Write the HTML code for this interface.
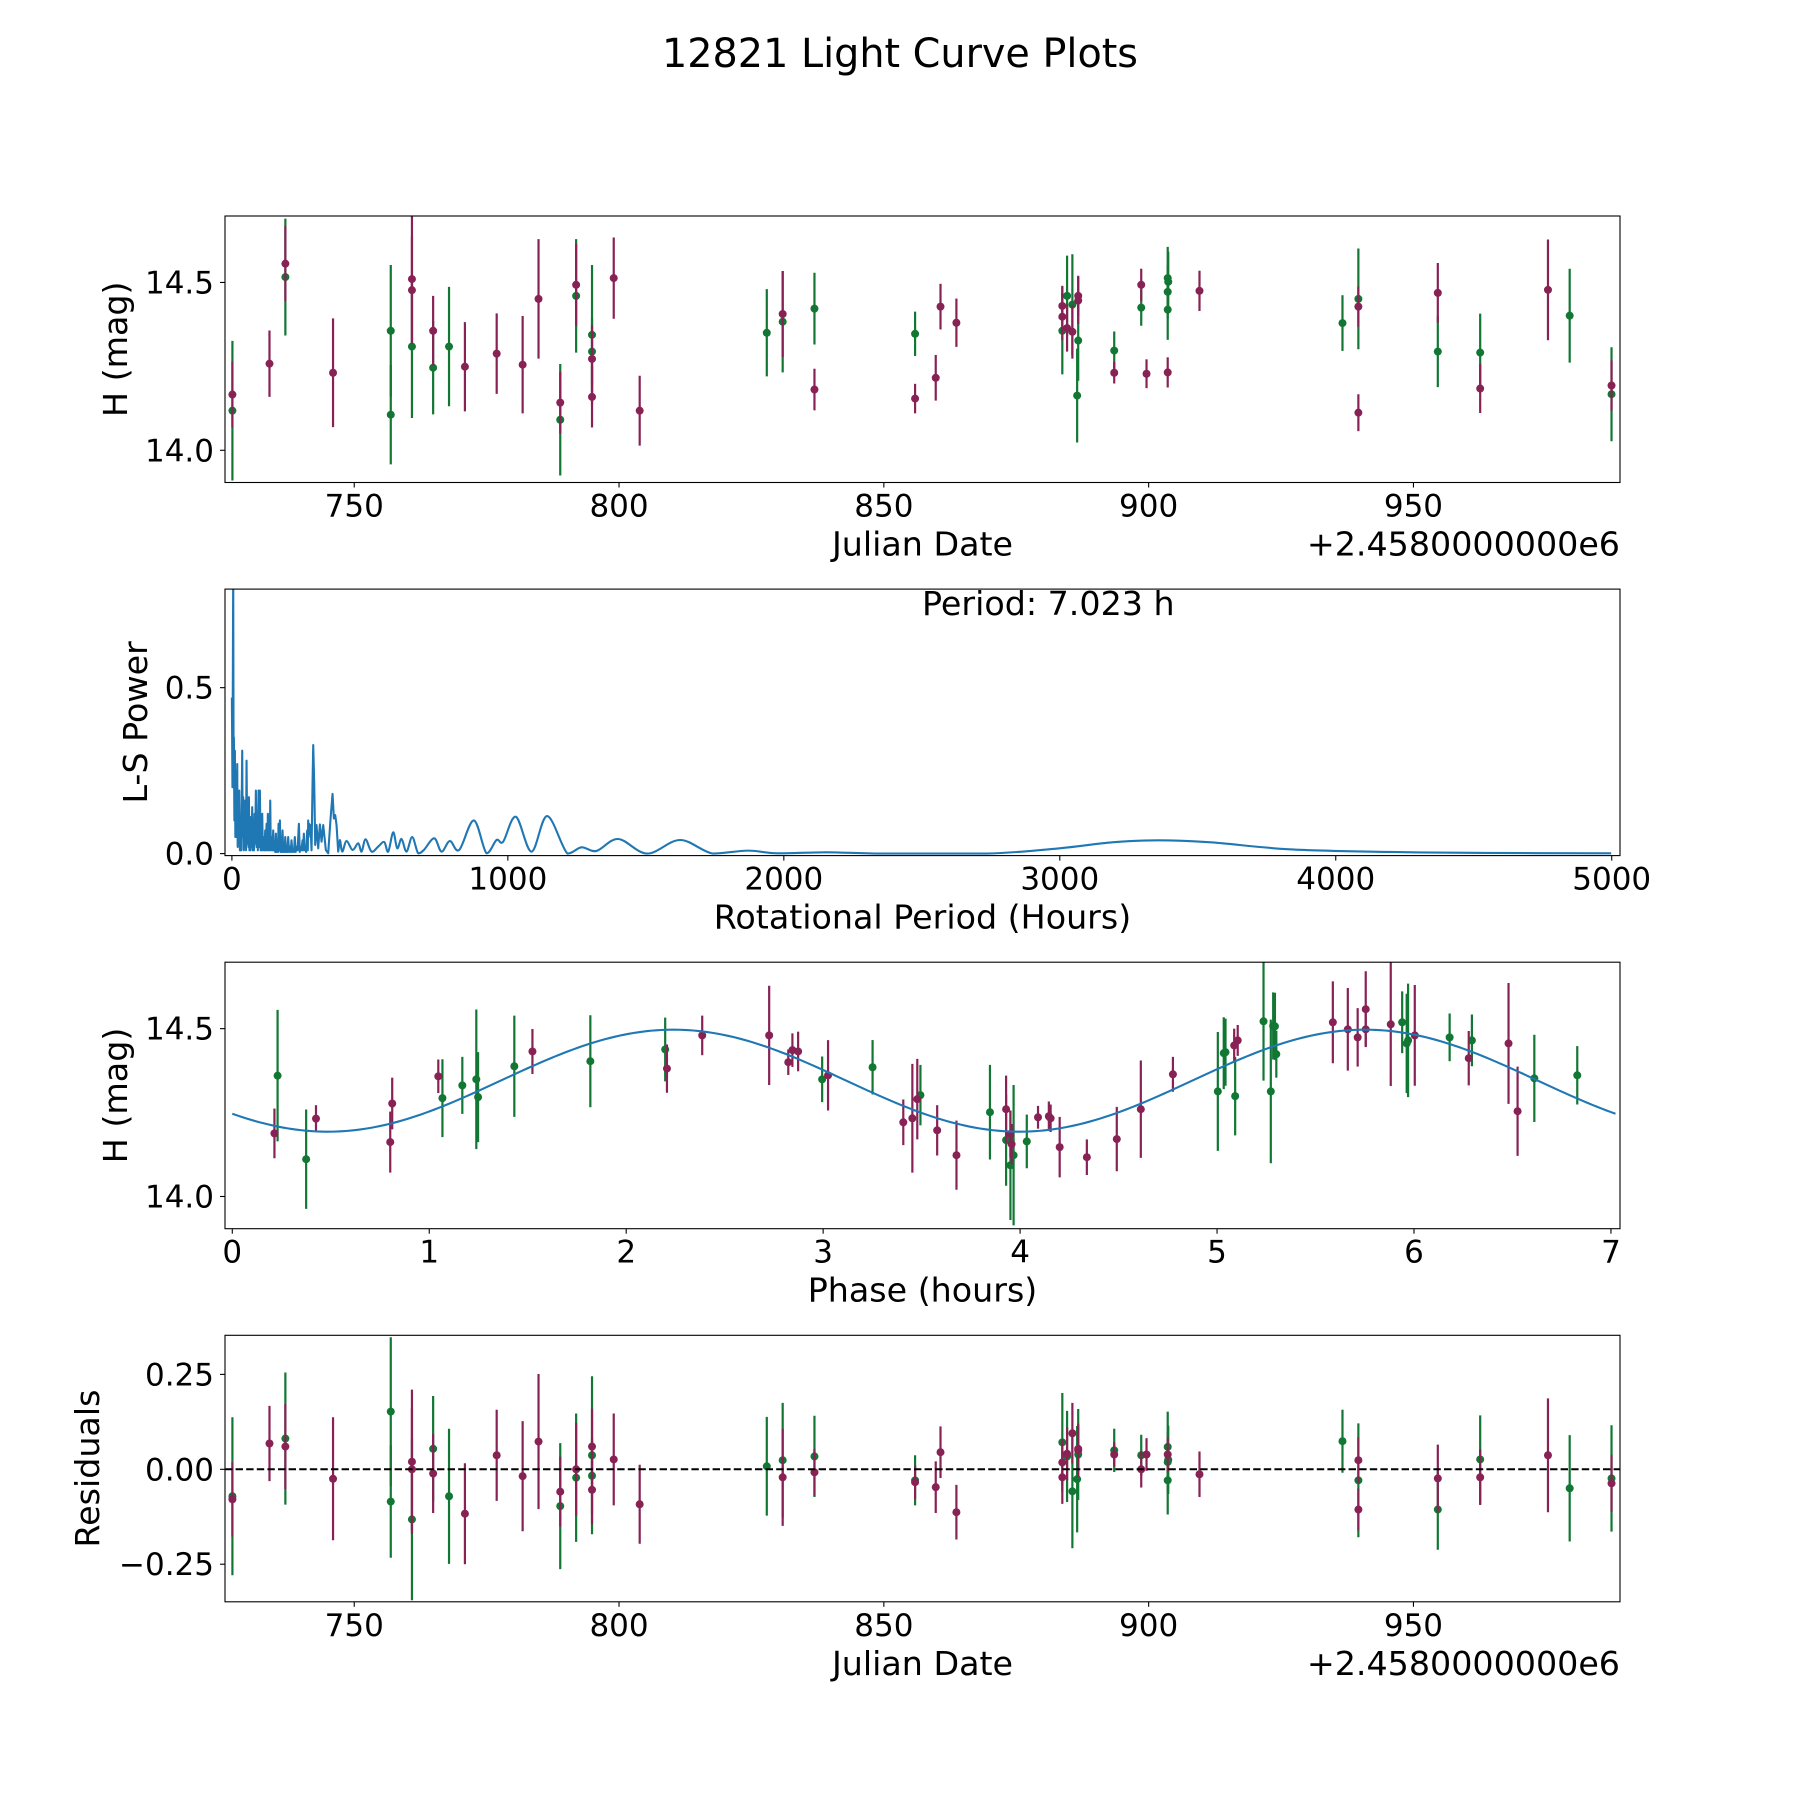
<!DOCTYPE html>
<html><head><meta charset="utf-8"><title>12821 Light Curve Plots</title>
<style>html,body{margin:0;padding:0;background:#fff}svg{display:block}text{font-family:"DejaVu Sans","Liberation Sans",sans-serif;fill:#000}</style>
</head><body>
<svg id="fig" xmlns="http://www.w3.org/2000/svg" width="1800" height="1800" viewBox="0 0 1800 1800">
<rect width="1800" height="1800" fill="#fff"/>
<text x="900" y="67" font-size="40" text-anchor="middle" textLength="476" lengthAdjust="spacingAndGlyphs">12821 Light Curve Plots</text>
</svg>
<script>
// ---- Panel 1 / 4 data: green filter ----
const gDate=[727.0,737.0,756.9,756.9,760.9,764.9,767.9,788.9,791.9,794.9,794.9,827.9,830.9,836.9,855.9,883.7,884.6,885.6,886.7,886.5,893.5,898.6,903.6,903.7,903.6,903.6,936.6,939.6,954.6,962.6,979.5,987.4];
const gMag=[14.118,14.516,14.356,14.106,14.309,14.246,14.309,14.091,14.460,14.344,14.294,14.350,14.383,14.422,14.347,14.356,14.460,14.434,14.327,14.163,14.297,14.425,14.513,14.502,14.472,14.419,14.379,14.451,14.294,14.291,14.401,14.167];
const gErr=[0.208,0.174,0.196,0.148,0.213,0.139,0.178,0.166,0.169,0.208,0.10,0.13,0.151,0.107,0.066,0.13,0.12,0.15,0.12,0.14,0.057,0.054,0.093,0.09,0.08,0.09,0.083,0.15,0.106,0.116,0.14,0.14];
const gRes=[-0.071,0.081,0.152,-0.085,-0.132,0.054,-0.071,-0.097,-0.022,0.037,-0.017,0.008,0.024,0.034,-0.029,0.071,0.034,-0.058,0.039,-0.026,0.05,0.037,0.059,0.025,0.019,-0.029,0.074,-0.029,-0.106,0.026,-0.05,-0.024];
// ---- purple filter ----
const pDate=[727.0,734.0,737.0,746.0,760.9,760.9,764.9,770.9,776.9,781.8,784.8,788.9,791.9,794.9,794.9,799.0,803.9,830.9,836.9,855.9,859.8,860.7,863.7,883.7,883.7,884.6,885.6,886.7,886.7,893.5,898.6,899.6,903.6,909.6,939.6,939.6,954.6,962.6,975.4,987.4];
const pMag=[14.166,14.258,14.556,14.231,14.510,14.477,14.356,14.249,14.288,14.255,14.451,14.142,14.493,14.272,14.159,14.513,14.118,14.406,14.181,14.154,14.216,14.428,14.380,14.430,14.398,14.364,14.353,14.460,14.446,14.231,14.493,14.228,14.232,14.475,14.428,14.112,14.469,14.184,14.478,14.193];
const pErr=[0.098,0.099,0.112,0.162,0.19,0.16,0.104,0.133,0.12,0.145,0.178,0.092,0.122,0.1,0.091,0.121,0.104,0.128,0.062,0.044,0.068,0.068,0.072,0.06,0.07,0.07,0.08,0.06,0.07,0.032,0.048,0.043,0.045,0.06,0.06,0.055,0.089,0.073,0.15,0.075];
const pRes=[-0.079,0.068,0.060,-0.025,0.020,0.0,-0.011,-0.117,0.037,-0.018,0.073,-0.059,0.0,0.060,-0.054,0.026,-0.092,-0.021,-0.008,-0.034,-0.047,0.045,-0.113,0.018,-0.021,0.041,0.095,0.054,0.05,0.039,0.0,0.039,0.039,-0.013,0.024,-0.106,-0.024,-0.021,0.037,-0.037];
// ---- Panel 2: periodogram (dense short-period forest, then smooth long-period part) ----
const forestPeriod=[0,2,4.8,6,7.2,9,10.8,12.5,14.5,15.5,16.9,18,19.3,21,22.9,24.5,26.5,29,31.4,34,37.4,39,41,43,44.7,46.5,48.3,51,53.1,55.5,58,60,61.6,63.5,65.2,67,68.8,71,73.6,75.5,77.3,80,82.1,84.5,86.9,89.5,91.8,94,96.6,99,101.4,104,106.3,108,109.9,112,114.7,118,120.7,123,125.6,128,130.4,133,135.2,137,138.9,141,143.7,147,149.7,152,154.6,157,159.4,162,164.2,167,169,171.5,173.9,176,178.7,181,183.5,186,188.4,191,193.2,196,198,201,204,207,210,213,216,219,222,225,228,231,234,238,242.7,246,248.8,252,256,258,260.8,263,265.7,269,272.9,275,276.5,278,280,282];
const forestPower=[0.47,0.2,0.85,0.3,0.35,0.1,0.31,0.05,0.25,0.08,0.11,0.05,0.27,0.02,0.11,0.03,0.19,0.01,0.09,0.01,0.31,0.05,0.17,0.01,0.05,0.02,0.16,0.01,0.28,0.03,0.11,0.02,0.17,0.01,0.05,0.01,0.11,0.02,0.14,0.01,0.05,0.01,0.12,0.03,0.19,0.02,0.08,0.01,0.19,0.02,0.19,0.01,0.06,0.01,0.12,0.01,0.05,0.01,0.07,0.01,0.09,0.01,0.12,0.01,0.05,0.01,0.16,0.01,0.05,0.01,0.07,0.01,0.02,0.005,0.06,0.005,0.02,0.005,0.09,0.01,0.1,0.005,0.02,0.005,0.07,0.005,0.02,0.005,0.05,0.005,0.02,0.005,0.05,0.005,0.02,0.005,0.04,0.005,0.01,0.005,0.05,0.005,0.02,0.01,0.09,0.005,0.02,0.01,0.04,0.01,0.06,0.01,0.02,0.005,0.07,0.01,0.1,0.05,0.09,0.06];
const midPeriod=[285,288.6,292.2,294.7,298.3,301.9,306.7,312.8,318.8,324.9,330.9,340.5,349,357.5,364.7,369.5,374.4,379.2,385.2,391.3,400,415.4,437.2,457.7,470,484.3,506,530.1,551.9,566.4,584.5,599,614.7,632.8,653.3,675,695.6,733.1,759.6,789.8,823.6,876.8,922.7,958.9,983,1029,1085.7,1142.5,1216,1267,1321,1399.7,1505,1624,1743,1869,1976,2155,2357,2737,2999,3190,3356,3546,3832,4189,4546,4998];
const midPower=[0.086,0.01,0.21,0.327,0.21,0.026,0.086,0.016,0.088,0.036,0.086,0.011,0.001,0.106,0.18,0.106,0.116,0.086,0.006,0.041,0.006,0.038,0.011,0.031,0.006,0.043,0.006,0.021,0.035,0.006,0.064,0.016,0.044,0.006,0.05,0.001,0.011,0.046,0.006,0.038,0.011,0.10,0.001,0.041,0.036,0.111,0.006,0.113,0.0,0.019,0.008,0.044,0.0,0.041,0.0,0.009,0.001,0.004,0.0,0.0,0.016,0.034,0.040,0.034,0.013,0.005,0.002,0.001];
const bestPeriodLabel="Period: 7.023 h";
// ---- Panel 3: phase-folded ----
const gPhase=[0.23,0.375,1.067,1.168,1.239,1.248,1.432,1.818,2.198,2.995,3.251,3.494,3.847,3.929,3.951,3.967,4.034,5.004,5.034,5.043,5.092,5.236,5.273,5.285,5.294,5.301,5.940,5.963,5.970,6.181,6.294,6.611,6.829];
const gPhMag=[14.360,14.111,14.293,14.331,14.349,14.296,14.388,14.403,14.438,14.349,14.385,14.302,14.251,14.168,14.093,14.123,14.164,14.313,14.427,14.430,14.299,14.522,14.313,14.508,14.507,14.424,14.519,14.456,14.465,14.474,14.465,14.352,14.361];
const gPhErr=[0.196,0.148,0.116,0.085,0.208,0.134,0.151,0.137,0.095,0.068,0.081,0.09,0.141,0.136,0.163,0.209,0.08,0.177,0.107,0.1,0.117,0.177,0.214,0.1,0.1,0.07,0.092,0.148,0.169,0.071,0.077,0.13,0.087];
const pPhase=[0.214,0.425,0.802,0.812,1.046,1.524,2.207,2.386,2.726,2.823,2.844,2.873,3.025,3.407,3.453,3.478,3.579,3.677,3.929,3.951,3.957,4.091,4.146,4.155,4.201,4.339,4.491,4.613,4.776,5.087,5.105,5.588,5.664,5.714,5.755,5.755,5.882,6.004,6.278,6.480,6.526];
const pPhMag=[14.188,14.232,14.162,14.277,14.358,14.432,14.381,14.480,14.480,14.400,14.436,14.432,14.361,14.221,14.233,14.290,14.197,14.123,14.260,14.186,14.156,14.236,14.239,14.233,14.147,14.117,14.171,14.260,14.364,14.450,14.465,14.519,14.498,14.474,14.558,14.498,14.513,14.480,14.412,14.456,14.254];
const pPhErr=[0.074,0.04,0.091,0.077,0.05,0.067,0.072,0.059,0.148,0.038,0.05,0.059,0.105,0.068,0.162,0.12,0.075,0.103,0.1,0.07,0.06,0.034,0.044,0.041,0.09,0.053,0.096,0.145,0.052,0.05,0.046,0.122,0.123,0.087,0.113,0.05,0.184,0.15,0.081,0.18,0.133];
const fitMean=14.345, fitAmp=0.152, fitPeakPhase=2.24, fitPeriod=7.023;
// ---- ticks ----
const dateTicks=[750,800,850,900,950];
const magTicks=[14.0,14.5];
const lsXTicks=[0,1000,2000,3000,4000,5000];
const lsYTicks=[0.0,0.5];
const phaseTicks=[0,1,2,3,4,5,6,7];
const resTicks=[-0.25,0.0,0.25];
const resTickLabels=["\u22120.25","0.00","0.25"];

const NS="http://www.w3.org/2000/svg";
const svg=document.getElementById('fig');
const GREEN="#117733", PURPLE="#882255", BLUE="#1f77b4";
const L=225,R=1620,PH=266.5,LABEL_FS=33.3,TICK_FS=31;
const tops=[216,589.1,962.2,1335.3];
function mk(tag,attrs,parent){const e=document.createElementNS(NS,tag);for(const k in attrs)e.setAttribute(k,attrs[k]);(parent||svg).appendChild(e);return e;}
function lin(d0,d1,p0,p1){return v=>p0+(v-d0)/(d1-d0)*(p1-p0);}

function axesFrame(i,name){
  const g=mk('g',{});
  
  
  const cp=mk('clipPath',{id:'clip'+i},g);
  mk('rect',{x:L,y:tops[i],width:R-L,height:PH},cp);
  const plot=mk('g',{'clip-path':'url(#clip'+i+')'},g);
  
  
  return {g,plot,top:tops[i],bot:tops[i]+PH};
}
function frame(ax){
  const r=mk('rect',{x:L,y:ax.top,width:R-L,height:PH,fill:'none',stroke:'#000','stroke-width':1.1},ax.g);
  
  
}
function xTicks(ax,ticks,sx,labels,name){
  ticks.forEach((t,k)=>{
    const x=sx(t);
    const tl=mk('line',{x1:x,x2:x,y1:ax.bot,y2:ax.bot+5,stroke:'#000','stroke-width':1.1},ax.g);
    
    
    const tx=mk('text',{x:x,y:ax.bot+34,'font-size':TICK_FS,'text-anchor':'middle'},ax.g);
    tx.textContent=labels?labels[k]:String(t);
    
    
  });
}
function yTicks(ax,ticks,sy,labels,name){
  ticks.forEach((t,k)=>{
    const y=sy(t);
    const tl=mk('line',{x1:L-5,x2:L,y1:y,y2:y,stroke:'#000','stroke-width':1.1},ax.g);
    
    
    const tx=mk('text',{x:L-11,y:y+11,'font-size':TICK_FS,'text-anchor':'end'},ax.g);
    tx.textContent=labels?labels[k]:t.toFixed(1);
    
    
  });
}
function xLabel(ax,txt,name){
  const t=mk('text',{x:(L+R)/2,y:ax.bot+73,'font-size':LABEL_FS,'text-anchor':'middle'},ax.g);
  t.textContent=txt;
  
  
}
function yLabel(ax,txt,x,name){
  const cy=(ax.top+ax.bot)/2;
  const t=mk('text',{x:x,y:cy,'font-size':LABEL_FS,'text-anchor':'middle',transform:'rotate(-90 '+x+' '+cy+')'},ax.g);
  t.textContent=txt;
  
  
}
function offsetText(ax){
  const t=mk('text',{x:R,y:ax.bot+73,'font-size':LABEL_FS,'text-anchor':'end'},ax.g);
  t.textContent='+2.4580000000e6';
  
  
}
function errPoints(ax,xs,ys,es,sx,sy,col,name){
  for(let k=0;k<xs.length;k++){
    const x=sx(xs[k]);
    const b=mk('line',{x1:x,x2:x,y1:sy(ys[k]-es[k]),y2:sy(ys[k]+es[k]),stroke:col,'stroke-width':2.2},ax.plot);
    
    
  }
  for(let k=0;k<xs.length;k++){
    const c=mk('circle',{cx:sx(xs[k]),cy:sy(ys[k]),r:4,fill:col},ax.plot);
    
    
  }
}

// Panel 1: light curve
(function(){
  const ax=axesFrame(0,'light-curve-axes');
  const sx=lin(725.6,989.0,L,R), sy=lin(13.904,14.698,ax.bot,ax.top);
  errPoints(ax,gDate,gMag,gErr,sx,sy,GREEN,'green-filter');
  errPoints(ax,pDate,pMag,pErr,sx,sy,PURPLE,'purple-filter');
  frame(ax);
  xTicks(ax,dateTicks,sx,null,'date-axis');
  yTicks(ax,magTicks,sy,null,'mag-axis');
  xLabel(ax,'Julian Date','x-axis-title');
  offsetText(ax);
  yLabel(ax,'H (mag)',127,'y-axis-title');
})();

// Panel 2: periodogram
(function(){
  const ax=axesFrame(1,'periodogram-axes');
  const sx=lin(-25,5030,L,R), sy=lin(-0.006,0.797,ax.bot,ax.top);
  let d='';
  for(let k=0;k<forestPeriod.length;k++){d+=(k?'L':'M')+sx(forestPeriod[k]).toFixed(2)+','+sy(forestPower[k]).toFixed(2);}
  // mid/long part: straight segments in the spiky zone, Catmull-Rom smoothing beyond ~390 h
  const P=midPeriod.map((p,k)=>[sx(p),sy(midPower[k])]);
  for(let k=0;k<P.length;k++){
    if(midPeriod[k]<=391.3){d+='L'+P[k][0].toFixed(2)+','+P[k][1].toFixed(2);continue;}
    const p0=P[k-2]||P[k-1],p1=P[k-1],p2=P[k],p3=P[k+1]||P[k];
    const c1x=p1[0]+(p2[0]-p0[0])/6,c1y=p1[1]+(p2[1]-p0[1])/6;
    const c2x=p2[0]-(p3[0]-p1[0])/6,c2y=p2[1]-(p3[1]-p1[1])/6;
    d+='C'+c1x.toFixed(2)+','+Math.min(c1y,sy(0)).toFixed(2)+' '+c2x.toFixed(2)+','+Math.min(c2y,sy(0)).toFixed(2)+' '+p2[0].toFixed(2)+','+p2[1].toFixed(2);
  }
  const p=mk('path',{d:d,fill:'none',stroke:BLUE,'stroke-width':2.1,'stroke-linejoin':'round'},ax.plot);
  
  
  frame(ax);
  xTicks(ax,lsXTicks,sx,null,'period-axis');
  yTicks(ax,lsYTicks,sy,null,'power-axis');
  xLabel(ax,'Rotational Period (Hours)','x-axis-title');
  yLabel(ax,'L-S Power',147,'y-axis-title');
  const t=mk('text',{x:922,y:615,'font-size':LABEL_FS},ax.g);
  t.textContent=bestPeriodLabel;
  
  
})();

// Panel 3: phase-folded
(function(){
  const ax=axesFrame(2,'phase-axes');
  const sx=lin(-0.037,7.046,L,R), sy=lin(13.904,14.698,ax.bot,ax.top);
  errPoints(ax,gPhase,gPhMag,gPhErr,sx,sy,GREEN,'green-filter');
  errPoints(ax,pPhase,pPhMag,pPhErr,sx,sy,PURPLE,'purple-filter');
  let d='';
  for(let k=0;k<=300;k++){const ph=fitPeriod*k/300;const m=fitMean+fitAmp*Math.cos(2*Math.PI*(ph-fitPeakPhase)/(fitPeriod/2));d+=(k?'L':'M')+sx(ph).toFixed(2)+','+sy(m).toFixed(2);}
  const p=mk('path',{d:d,fill:'none',stroke:BLUE,'stroke-width':2.1},ax.plot);
  
  
  frame(ax);
  xTicks(ax,phaseTicks,sx,null,'phase-axis');
  yTicks(ax,magTicks,sy,null,'mag-axis');
  xLabel(ax,'Phase (hours)','x-axis-title');
  yLabel(ax,'H (mag)',127,'y-axis-title');
})();

// Panel 4: residuals
(function(){
  const ax=axesFrame(3,'residuals-axes');
  const sx=lin(725.6,989.0,L,R), sy=lin(-0.349,0.353,ax.bot,ax.top);
  errPoints(ax,gDate,gRes,gErr,sx,sy,GREEN,'green-filter');
  errPoints(ax,pDate,pRes,pErr,sx,sy,PURPLE,'purple-filter');
  const z=mk('line',{x1:L,x2:R,y1:sy(0),y2:sy(0),stroke:'#000','stroke-width':2,'stroke-dasharray':'7.4,3.2'},ax.plot);
  
  
  frame(ax);
  xTicks(ax,dateTicks,sx,null,'date-axis');
  yTicks(ax,resTicks,sy,resTickLabels,'residual-axis');
  xLabel(ax,'Julian Date','x-axis-title');
  offsetText(ax);
  yLabel(ax,'Residuals',99,'y-axis-title');
})();
</script>
</body></html>
